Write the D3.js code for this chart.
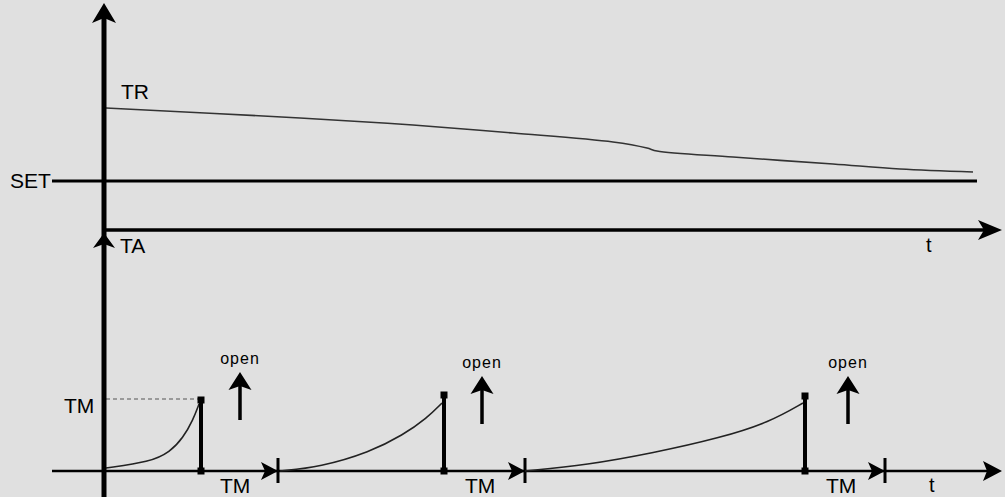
<!DOCTYPE html>
<html><head><meta charset="utf-8">
<script src="https://cdn.jsdelivr.net/npm/d3@7"></script>
<style>
html,body{margin:0;padding:0;background:#e0e0e0;}
svg{display:block;}
text{font-family:"Liberation Sans",Arial,sans-serif;fill:#000;}
</style></head>
<body><svg id="c" width="1005" height="497"></svg>
<script>
// ---- data (time in arbitrary units from origin, levels in arbitrary units) ----
const trTime   = [2, 196, 309, 409, 509, 543, 553, 629, 729, 796, 869];
const trValue  = [122, 112, 105, 97, 88, 82, 79, 73, 66, 61, 58];
const setLevel = 49;
const setEnd   = 873;
const tmLevel  = 72;
const cycleCurves = [
  {t: [2, 46, 66, 79, 89, 95],        v: [3, 9, 19, 33, 51, 67]},
  {t: [176, 216, 266, 299, 323, 338], v: [0, 4, 19, 36, 53, 68]},
  {t: [421, 483, 549, 616, 666, 699], v: [0, 6, 18, 33, 49, 68]}
];
const openTime   = [97, 340, 701];   // valve opens (vertical bar)
const peakLevel  = [71, 76, 75];
const tickTime   = [174, 421, 781];  // end of TM interval
const arrowTime  = [136, 378, 744];  // "open" arrows
const labels = {tr: "TR", set: "SET", ta: "TA", tm: "TM", t: "t", open: "open"};

// ---- scales ----
const x = d3.scaleLinear().domain([0, 898]).range([104, 1002]);
const yTop = d3.scaleLinear().domain([0, 230]).range([230, 0]);
const yBot = d3.scaleLinear().domain([0, 100]).range([471, 371]);

const svg = d3.select("#c");
svg.append("rect").attr("width",1005).attr("height",497).attr("fill","#e0e0e0");

function arrowHead(g, tipX, tipY, dir, len, half, notch){
  const p = d3.path();
  if(dir==='up'){
    p.moveTo(tipX, tipY); p.lineTo(tipX+half, tipY+len); p.lineTo(tipX, tipY+len-notch); p.lineTo(tipX-half, tipY+len); p.closePath();
  } else {
    p.moveTo(tipX, tipY); p.lineTo(tipX-len, tipY-half); p.lineTo(tipX-len+notch, tipY); p.lineTo(tipX-len, tipY+half); p.closePath();
  }
  g.append("path").attr("d", p.toString()).attr("fill","#000");
}

const g = svg.append("g");

// ---- top panel ----
const trLine = d3.line().x((d,i)=>x(trTime[i])).y((d,i)=>yTop(trValue[i])).curve(d3.curveCatmullRom.alpha(0.5));
g.append("path").attr("d", trLine(trTime)).attr("fill","none").attr("stroke","#333").attr("stroke-width",1.6);
g.append("line").attr("x1",52).attr("x2",x(setEnd)).attr("y1",yTop(setLevel)).attr("y2",yTop(setLevel))
  .attr("stroke","#000").attr("stroke-width",3);
g.append("line").attr("x1",x(0)).attr("x2",x(880)).attr("y1",yTop(0)).attr("y2",yTop(0)).attr("stroke","#000").attr("stroke-width",3.5);
arrowHead(g, x(898), yTop(0), 'right', 24, 10, 6);

// ---- bottom panel ----
g.append("line").attr("x1",52).attr("x2",x(885)).attr("y1",yBot(0)).attr("y2",yBot(0)).attr("stroke","#000").attr("stroke-width",2.5);
arrowHead(g, x(898), yBot(0), 'right', 19, 10, 4);

g.append("line").attr("x1",x(2)).attr("x2",x(openTime[0])).attr("y1",yBot(tmLevel)).attr("y2",yBot(tmLevel))
  .attr("stroke","#555").attr("stroke-width",1.2).attr("stroke-dasharray","4,3");

const cLine = d3.line().x(d=>x(d[0])).y(d=>yBot(d[1])).curve(d3.curveBasis);
cycleCurves.forEach((c,i)=>{
  const pts = c.t.map((t,j)=>[t, c.v[j]]);
  g.append("path").attr("d", cLine(pts)).attr("fill","none").attr("stroke","#222").attr("stroke-width",1.6);
  g.append("line").attr("x1",x(openTime[i])).attr("x2",x(openTime[i])).attr("y1",yBot(peakLevel[i])).attr("y2",yBot(0))
    .attr("stroke","#000").attr("stroke-width",4);
  g.append("rect").attr("x",x(openTime[i])-3.5).attr("y",yBot(peakLevel[i])-3.5).attr("width",7).attr("height",7).attr("fill","#000");
  g.append("rect").attr("x",x(openTime[i])-3.5).attr("y",yBot(0)-3.5).attr("width",7).attr("height",7).attr("fill","#000");
  arrowHead(g, x(tickTime[i]), yBot(0), 'right', 17, 9, 4);
  g.append("line").attr("x1",x(tickTime[i])).attr("x2",x(tickTime[i])).attr("y1",yBot(0)-13).attr("y2",yBot(0)+12)
    .attr("stroke","#000").attr("stroke-width",3);
  g.append("text").attr("x",x(openTime[i])+19 + (i===0?0:2)).attr("y",493).attr("font-size",21).text(labels.tm);
  const ax = x(arrowTime[i]);
  const tipY = i===0 ? 372 : 376;
  g.append("line").attr("x1",ax).attr("x2",ax).attr("y1",tipY+10).attr("y2",tipY+48).attr("stroke","#000").attr("stroke-width",3.5);
  arrowHead(g, ax, tipY, 'up', 18, 11.5, 4);
  g.append("text").attr("x",ax).attr("y",tipY-8).attr("text-anchor","middle").attr("font-size",16)
    .attr("letter-spacing",1).text(labels.open);
});

g.append("line").attr("x1",x(0)).attr("x2",x(0)).attr("y1",15).attr("y2",497).attr("stroke","#000").attr("stroke-width",5);
arrowHead(g, x(0), 3, 'up', 20, 12, 5);
arrowHead(g, x(0), 233, 'up', 15, 11, 4);

g.append("text").attr("x",121).attr("y",99).attr("font-size",21).text(labels.tr);
g.append("text").attr("x",10).attr("y",188).attr("font-size",21).text(labels.set);
g.append("text").attr("x",120).attr("y",253).attr("font-size",21).text(labels.ta);
g.append("text").attr("x",926).attr("y",252).attr("font-size",20).text(labels.t);
g.append("text").attr("x",929).attr("y",492).attr("font-size",20).text(labels.t);
g.append("text").attr("x",64).attr("y",413).attr("font-size",21).text(labels.tm);
</script></body></html>
